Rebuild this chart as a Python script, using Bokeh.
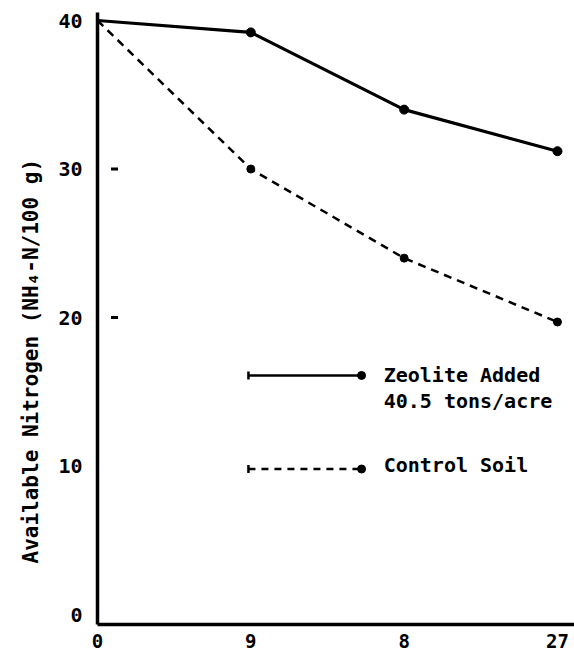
import math
from bokeh.plotting import figure
from bokeh.models import Range1d, FixedTicker, Title
from bokeh.core.properties import value
from bokeh.embed import file_html
from bokeh.resources import INLINE

# Data
days = [0, 9, 18, 27]
x_tick_labels = {0: "0", 9: "9", 18: "8", 27: "27"}
y_ticks = [0, 10, 20, 30, 40]
inner_ticks = [20, 30]
zeolite = [40.0, 39.2, 34.0, 31.2]
control = [40.0, 30.0, 24.0, 19.7]
zeolite_name = ["Zeolite Added", "40.5 tons/acre"]
control_name = "Control Soil"
y_label = "Available Nitrogen (NH\u2084-N/100 g)"

FONT = "DejaVu Sans Mono"

p = figure(width=574, height=650, output_backend="svg", toolbar_location=None,
           x_range=Range1d(0, 28), y_range=Range1d(-0.67, 40.54),
           min_border_left=97, min_border_right=0, min_border_top=12, min_border_bottom=24)
p.outline_line_color = None
p.xgrid.visible = False
p.ygrid.visible = False
p.background_fill_color = "white"

for ax in (p.xaxis[0], p.yaxis[0]):
    ax.axis_line_width = 3.5
    ax.axis_line_color = "black"
    ax.major_tick_line_color = None
    ax.minor_tick_line_color = None
    ax.major_label_text_font = FONT
    ax.major_label_text_font_style = "bold"
    ax.major_label_text_color = "black"

p.xaxis.ticker = FixedTicker(ticks=days)
p.xaxis.major_label_overrides = x_tick_labels
p.xaxis.major_label_text_font_size = "19px"
p.xaxis.major_label_standoff = 3

p.yaxis.ticker = FixedTicker(ticks=y_ticks)
p.yaxis.major_label_text_font_size = "20px"
p.yaxis.major_label_standoff = 9

# series lines
p.line(days, zeolite, line_color="black", line_width=3.2)
p.line(days, control, line_color="black", line_width=2.5, line_dash="8 6")
p.scatter(days[1:], zeolite[1:], marker="circle", size=9, color="black")
p.scatter(days[1:], control[1:], marker="circle", size=8, color="black")

# inner tick dashes
p.scatter([1.0] * len(inner_ticks), inner_ticks, marker="dash", size=7,
          line_width=3, line_color="black")

# manual legend
lx0, lx1, tx = 8.86, 15.5, 16.8
ly_z, ly_c = 16.1, 9.8
p.line([lx0, lx1], [ly_z, ly_z], line_color="black", line_width=2.5)
p.line([lx0, lx1], [ly_c, ly_c], line_color="black", line_width=2.5, line_dash="7 6")
p.scatter([lx0, lx0], [ly_z, ly_c], marker="dash", angle=math.pi / 2, size=8,
          line_width=2.5, line_color="black")
p.scatter([lx1, lx1], [ly_z, ly_c], marker="circle", size=8, color="black")
p.text([tx, tx], [ly_z, 14.4], text=zeolite_name, text_font=value(FONT),
       text_font_size="20px", text_font_style="bold", text_baseline="middle",
       text_color="black")
p.text([tx], [10.1], text=[control_name], text_font=value(FONT),
       text_font_size="20px", text_font_style="bold", text_baseline="middle",
       text_color="black")

# y axis title (as a side title so it can be shifted down)
p.add_layout(Title(text=y_label, align="left", offset=61, standoff=26,
                   text_font=FONT, text_font_size="21px", text_font_style="bold",
                   text_color="black"), "left")

open("out.html", "w").write(file_html(p, INLINE))
